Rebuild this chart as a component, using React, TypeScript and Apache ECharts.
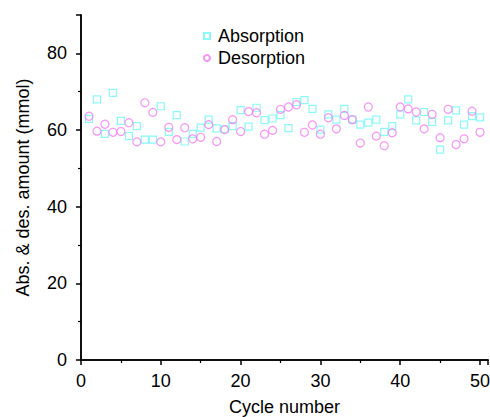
import React, { useEffect, useRef } from "react";
import * as echarts from "echarts";

const cycles = Array.from({ length: 50 }, (_, i) => i + 1);

const absorption = [
  62.9, 68.0, 59.0, 69.7, 62.4, 58.4, 61.0, 57.5, 57.5, 66.2,
  59.5, 63.9, 57.0, 59.0, 60.6, 62.7, 60.4, 60.2, 61.0, 65.2,
  60.9, 65.8, 62.6, 63.0, 63.9, 60.5, 67.3, 67.8, 65.5, 60.1,
  64.1, 62.7, 65.5, 62.7, 61.4, 61.9, 62.7, 59.5, 61.0, 64.1,
  68.0, 62.5, 64.7, 62.1, 54.9, 62.5, 65.1, 61.4, 63.6, 63.3,
];

const desorption = [
  63.6, 59.7, 61.5, 59.4, 59.6, 61.9, 56.9, 67.1, 64.6, 56.9,
  60.7, 57.5, 60.6, 57.7, 58.1, 61.4, 57.0, 60.1, 62.7, 59.6,
  64.8, 64.5, 58.9, 59.9, 65.4, 66.0, 66.6, 59.4, 61.3, 58.9,
  63.2, 60.3, 63.8, 62.7, 56.6, 66.0, 58.4, 55.9, 59.3, 66.0,
  65.5, 64.7, 60.3, 64.1, 58.0, 65.4, 56.2, 57.7, 64.9, 59.4,
];

const seriesNames = ["Absorption", "Desorption"];
const xTickLabels = ["0", "10", "20", "30", "40", "50"];
const yTickLabels = ["0", "20", "40", "60", "80"];

const CYAN = "#70f6f6";
const PINK = "#f578f5";
const FONT = "Liberation Sans, Arial, sans-serif";

export default function App() {
  const ref = useRef<HTMLDivElement>(null);
  useEffect(() => {
    if (!ref.current) return;
    const chart = echarts.init(ref.current, undefined, { renderer: "svg" });
    const axisLine = { show: true, lineStyle: { color: "#000", width: 1.5 } };
    chart.setOption({
      animation: false,
      backgroundColor: "#fff",
      grid: {
        left: 81,
        right: 2,
        top: 15,
        bottom: 57,
        containLabel: false,
        outerBoundsMode: "none",
      },
      legend: {
        orient: "vertical",
        left: 203,
        top: 27,
        padding: 0,
        itemWidth: 6,
        itemHeight: 6,
        itemGap: 4,
        textStyle: {
          fontFamily: FONT,
          fontSize: 18,
          lineHeight: 18,
          color: "#000",
          padding: [0, 0, 0, 3],
        },
        data: seriesNames,
      },
      xAxis: [
        {
          type: "value",
          min: 0,
          max: 51,
          interval: 10,
          name: "Cycle number",
          nameLocation: "middle",
          nameGap: 38,
          nameTextStyle: { fontFamily: FONT, fontSize: 18, color: "#000" },
          axisLine,
          axisTick: { show: true, inside: false, length: 5, lineStyle: { width: 1.5 } },
          minorTick: { show: true, splitNumber: 2, length: 3, lineStyle: { color: "#000", width: 1.2 } },
          axisLabel: {
            margin: 12,
            fontFamily: FONT,
            fontSize: 18,
            color: "#000",
            formatter: (v: number) => (xTickLabels.includes(String(v)) ? String(v) : ""),
          },
          splitLine: { show: false },
        },
        {
          type: "value",
          position: "top",
          min: 0,
          max: 51,
          axisLine,
          axisTick: { show: false },
          axisLabel: { show: false },
          splitLine: { show: false },
        },
      ],
      yAxis: [
        {
          type: "value",
          min: 0,
          max: 90,
          interval: 20,
          name: "Abs. & des. amount (mmol)",
          nameLocation: "middle",
          nameGap: 49,
          nameTextStyle: { fontFamily: FONT, fontSize: 18, color: "#000" },
          axisLine,
          axisTick: { show: true, inside: false, length: 5, lineStyle: { width: 1.5 } },
          minorTick: { show: true, splitNumber: 2, length: 3, lineStyle: { color: "#000", width: 1.2 } },
          axisLabel: {
            margin: 14,
            fontFamily: FONT,
            fontSize: 18,
            color: "#000",
            formatter: (v: number) => (yTickLabels.includes(String(v)) ? String(v) : ""),
          },
          splitLine: { show: false },
        },
        {
          type: "value",
          position: "right",
          min: 0,
          max: 90,
          axisLine,
          axisTick: { show: false },
          axisLabel: { show: false },
          splitLine: { show: false },
        },
      ],
      series: [
        {
          name: seriesNames[0],
          type: "scatter",
          symbol: "rect",
          symbolSize: 7,
          itemStyle: { color: "transparent", borderColor: CYAN, borderWidth: 1.2 },
          data: cycles.map((c, i) => [c, absorption[i]]),
        },
        {
          name: seriesNames[1],
          type: "scatter",
          symbol: "circle",
          symbolSize: 8,
          itemStyle: { color: "transparent", borderColor: PINK, borderWidth: 1.2 },
          data: cycles.map((c, i) => [c, desorption[i]]),
        },
      ],
    });
    return () => chart.dispose();
  }, []);
  return (
    <div
      ref={ref}
      style={{ position: "fixed", left: 0, top: 0, width: 490, height: 417, background: "#fff" }}
    />
  );
}
